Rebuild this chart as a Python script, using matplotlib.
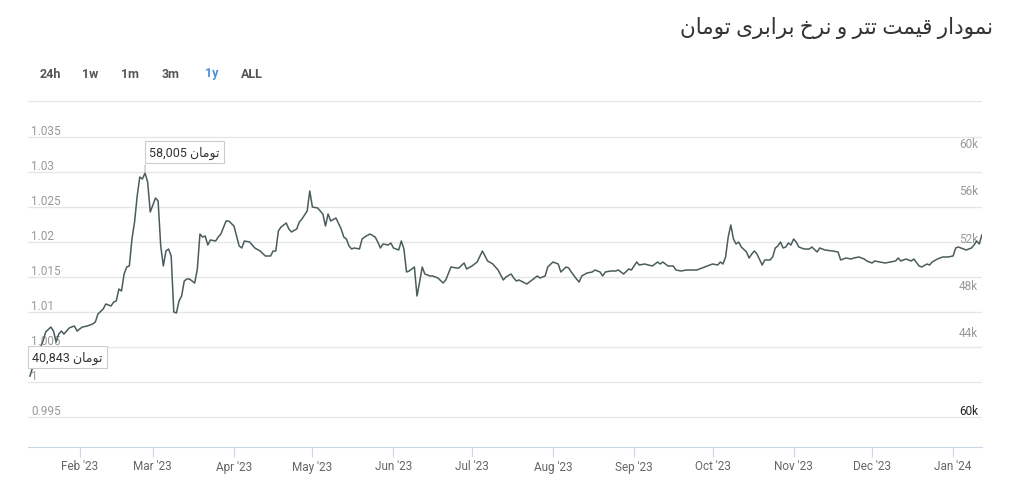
import pandas as pd
import matplotlib
matplotlib.use("Agg")
import matplotlib.pyplot as plt

# USDT price in toman (days counted from the first point)
start = pd.Timestamp("2023-01-13")
days = [0, 2, 5, 6, 8, 9, 10, 11, 12, 13, 15, 17, 18, 20, 22, 24, 25, 26, 28, 29,
        31, 32, 33, 34, 35, 36, 37, 38, 39, 40, 41, 42, 43, 44, 45, 46, 48, 49, 50, 51,
        52, 53, 54, 55, 56, 57, 58, 59, 60, 61, 63, 64, 65, 66, 67, 68, 69, 71, 72, 73,
        75, 76, 78, 80, 81, 82, 84, 86, 88, 90, 92, 93, 94, 95, 96, 98, 99, 100, 102, 103,
        104, 106, 107, 108, 110, 112, 113, 114, 115, 117, 119, 120, 121, 122, 123, 124, 126, 127, 128, 130,
        132, 133, 134, 135, 137, 138, 139, 141, 142, 143, 144, 145, 147, 148, 149, 150, 151, 153, 154, 156,
        158, 159, 161, 163, 164, 166, 167, 169, 171, 173, 175, 177, 179, 181, 182, 184, 185, 186, 187, 190,
        191, 194, 195, 197, 198, 200, 202, 203, 205, 206, 207, 209, 210, 211, 213, 215, 216, 218, 219, 220,
        222, 224, 225, 227, 229, 230, 232, 233, 235, 238, 240, 241, 242, 244, 246, 247, 249, 251, 253, 255,
        257, 259, 261, 263, 264, 265, 266, 267, 268, 269, 270, 271, 272, 274, 275, 276, 277, 278, 280, 281,
        283, 284, 285, 286, 287, 288, 289, 290, 291, 292, 293, 294, 296, 298, 299, 301, 302, 304, 307, 309,
        310, 312, 314, 315, 317, 319, 320, 322, 323, 325, 327, 329, 331, 332, 333, 335, 337, 338, 340, 341,
        343, 344, 345, 347, 349, 351, 353, 354, 355, 356, 358, 360, 361, 362, 363, 364]
toman = [40843, 42290, 43810, 44570, 44990, 44650, 43725, 44400, 44650, 44400, 44910, 45080, 44650, 44990, 45080, 45250, 45415, 46090, 46513, 46935,
         46767, 47104, 47189, 48203, 48034, 49470, 50062, 50146, 52428, 53865, 56062, 57667, 57498, 58005, 57244, 54710, 55893, 55639, 51837, 50146,
         51414, 51583, 50992, 46260, 46175, 47189, 47612, 48879, 49048, 49048, 48710, 49893, 52851, 52597, 52682, 51921, 52344, 52259, 52597, 52851,
         53949, 53949, 53527, 51837, 51668, 52259, 52174, 51668, 51414, 50992, 50992, 51414, 51414, 53104, 53442, 53780, 53273, 53020, 53273, 53865,
         54118, 54794, 56484, 55132, 55048, 54541, 53527, 54541, 53949, 54203, 53273, 52597, 52428, 51837, 51583, 51668, 51583, 52428, 52597, 52851,
         52597, 52174, 51668, 52006, 51921, 52090, 51668, 51498, 52259, 51583, 49640, 49724, 50062, 47612, 48794, 50062, 49470, 49302, 49302, 49132,
         48710, 48964, 50062, 49978, 49978, 50400, 49893, 50146, 50484, 51414, 50569, 50316, 49808, 48964, 49217, 49470, 49132, 48879, 48964, 48626,
         48794, 49302, 49132, 49302, 50062, 50484, 50316, 49640, 50062, 49978, 49640, 49048, 48794, 49302, 49555, 49640, 49808, 49640, 49302, 49640,
         49724, 49724, 49808, 49470, 49893, 49808, 50484, 50231, 50316, 50146, 50484, 50316, 50484, 50146, 50146, 49808, 49724, 49808, 49808, 49808,
         49978, 50146, 50316, 50231, 50484, 50316, 50907, 52597, 53611, 52428, 52006, 52174, 51752, 51330, 50822, 51160, 51414, 51160, 50231, 50654,
         50654, 50907, 51668, 51837, 52174, 51668, 51752, 52090, 51921, 52428, 52174, 51752, 51583, 51583, 51752, 51330, 51668, 51498, 51414, 51330,
         50654, 50822, 50738, 50822, 50907, 50738, 50569, 50400, 50569, 50484, 50400, 50484, 50569, 50822, 50569, 50738, 50569, 50738, 50146, 50062,
         50316, 50231, 50484, 50738, 50907, 50907, 50992, 51668, 51752, 51668, 51498, 51668, 51921, 52259, 52006, 52766]

left_ticks = [0.995, 1.0, 1.005, 1.01, 1.015, 1.02, 1.025, 1.03, 1.035]
left_labels = ["0.995", "1", "1.005", "1.01", "1.015", "1.02", "1.025", "1.03", "1.035"]
right_ticks = [60000, 56000, 52000, 48000, 44000]
right_labels = ["60k", "56k", "52k", "48k", "44k"]
ranges = ["24h", "1w", "1m", "3m", "1y", "ALL"]
title = "نمودار قیمت تتر و نرخ برابری تومان"
unit = "تومان"

# matplotlib has no Arabic shaping, so pick the joined glyph forms by hand
FORMS = {
    "ا": ("\uFE8D", "\uFE8E", None, None),
    "ب": ("\uFE8F", "\uFE90", "\uFE91", "\uFE92"),
    "ت": ("\uFE95", "\uFE96", "\uFE97", "\uFE98"),
    "خ": ("\uFEA5", "\uFEA6", "\uFEA7", "\uFEA8"),
    "د": ("\uFEA9", "\uFEAA", None, None),
    "ر": ("\uFEAD", "\uFEAE", None, None),
    "ق": ("\uFED5", "\uFED6", "\uFED7", "\uFED8"),
    "م": ("\uFEE1", "\uFEE2", "\uFEE3", "\uFEE4"),
    "ن": ("\uFEE5", "\uFEE6", "\uFEE7", "\uFEE8"),
    "و": ("\uFEED", "\uFEEE", None, None),
    "ی": ("\uFBFC", "\uFBFD", "\uFBFE", "\uFBFF"),
}


def shape(text):
    out = []
    for i, ch in enumerate(text):
        if ch not in FORMS:
            out.append(ch)
            continue
        iso, fin, ini, med = FORMS[ch]
        prev = text[i - 1] if i > 0 else ""
        nxt = text[i + 1] if i + 1 < len(text) else ""
        j_prev = prev in FORMS and FORMS[prev][2] is not None
        j_next = ini is not None and nxt in FORMS
        if j_prev and j_next:
            out.append(med)
        elif j_prev:
            out.append(fin)
        elif j_next:
            out.append(ini)
        else:
            out.append(iso)
    return "".join(reversed(out))


plt.rcParams["font.family"] = ["Roboto", "DejaVu Sans"]

dates = [start + pd.Timedelta(days=d) for d in days]
months = pd.date_range("2023-02-01", "2024-01-01", freq="MS")
month_labels = [m.strftime("%b '%y") for m in months]

fig = plt.figure(figsize=(10.24, 4.81), dpi=100)
ax = fig.add_axes([28 / 1024, 1 - 448 / 481, 954 / 1024, 346 / 481])

ax.set_xlim(start - pd.Timedelta(hours=18), start + pd.Timedelta(days=364.05))
ax.set_ylim(0.99071, 1.04007)
ax.set_yticks(left_ticks + [1.04])
ax.yaxis.grid(True, color="#e6e6e6", lw=1)
ax.tick_params(axis="y", length=0, labelleft=False)
for s in ["top", "left", "right"]:
    ax.spines[s].set_visible(False)
ax.spines["bottom"].set_color("#ccd6eb")
ax.set_xticks(months)
ax.set_xticklabels(month_labels)
ax.tick_params(axis="x", length=7, color="#ccd6eb", labelsize=8.5, labelcolor="#666666", pad=2)

for t, lbl in zip(left_ticks, left_labels):
    ax.annotate(lbl, xy=(0, t), xycoords=ax.get_yaxis_transform(), xytext=(3, 0),
                textcoords="offset pixels", ha="left", va="bottom", fontsize=8.5, color="#999999")
ax.annotate("60k", xy=(1, 0.995), xycoords=ax.get_yaxis_transform(), xytext=(-4, 0),
            textcoords="offset pixels", ha="right", va="bottom", fontsize=8.5, color="#222222")

ax2 = ax.twinx()
ax2.set_ylim(34852, 64089)
ax2.set_yticks([])
for s in ax2.spines.values():
    s.set_visible(False)

for t, lbl in zip(right_ticks, right_labels):
    ax2.annotate(lbl, xy=(1, t), xycoords=ax2.get_yaxis_transform(), xytext=(-4, 6),
                 textcoords="offset pixels", ha="right", va="center", fontsize=8.5, color="#999999")

ax2.plot(dates, toman, color="#4b5c5c", lw=1.1, zorder=3)

# tooltips at the high and at the first point
i_max = toman.index(max(toman))
box = dict(boxstyle="square,pad=0.35", fc="white", ec="#cccccc", lw=0.8)
ax2.annotate("", xy=(dates[i_max], toman[i_max]), xytext=(0, 8), textcoords="offset pixels",
             arrowprops=dict(arrowstyle="-", color="#bbbbbb", lw=0.8, shrinkA=0, shrinkB=0))
ax2.annotate(f"{toman[i_max]:,} " + shape(unit), xy=(dates[i_max], toman[i_max]), xytext=(4, 21),
             textcoords="offset pixels", ha="left", va="center", fontsize=9, color="#333333",
             bbox=box, zorder=5)
ax2.annotate(f"{toman[0]:,} " + shape(unit), xy=(dates[0], toman[0]), xytext=(2, 19),
             textcoords="offset pixels", ha="left", va="center", fontsize=9, color="#333333",
             bbox=box, zorder=5)

fig.text(993 / 1024, 1 - 28 / 481, shape(title), ha="right", va="center", fontsize=15.5, color="#333333")

for lbl, xc in zip(ranges, [50, 90, 130, 171, 212, 252]):
    fig.text(xc / 1024, 1 - 74 / 481, lbl, ha="center", va="center", fontsize=9, fontweight="bold",
             color="#4a90d9" if lbl == "1y" else "#555555")

fig.savefig("out.png", dpi=100, facecolor="white")
